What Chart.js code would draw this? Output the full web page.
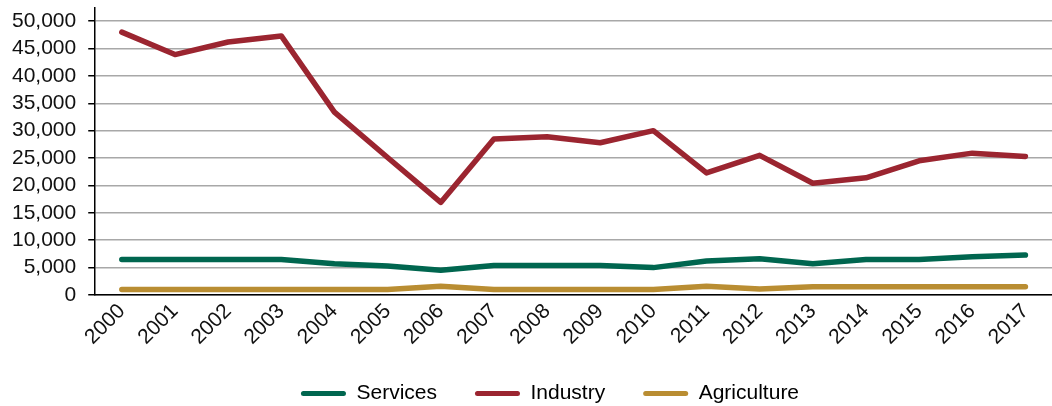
<!DOCTYPE html>
<html>
<head>
<meta charset="utf-8">
<script src="https://cdn.jsdelivr.net/npm/chart.js@4"></script>
<style>
html,body{margin:0;padding:0;background:#fff;}
#wrap{width:1052px;height:406px;position:relative;}
</style>
</head>
<body>
<div id="wrap"><canvas id="c" width="1052" height="406"></canvas></div>
<script>
const years = ["2000","2001","2002","2003","2004","2005","2006","2007","2008","2009","2010","2011","2012","2013","2014","2015","2016","2017"];
const services = [6500,6500,6500,6500,5700,5300,4500,5400,5400,5400,5000,6200,6600,5700,6500,6500,7000,7300];
const industry = [48000,43900,46200,47300,33400,25100,16900,28500,28900,27800,30000,22300,25500,20400,21400,24500,25900,25300];
const agriculture = [1000,1000,1000,1000,1000,1000,1600,1000,1000,1000,1000,1600,1100,1500,1500,1500,1500,1500];
const yTicks = [0,5000,10000,15000,20000,25000,30000,35000,40000,45000,50000];

const FONT = "'Liberation Sans', Arial, Helvetica, sans-serif";
const cols = {s:'#00664f', i:'#9b2530', a:'#b98d32'};

const legendShift = {
  id:'legendShift',
  afterLayout(chart){
    if (chart.legend){ chart.legend.left += 23; chart.legend.right += 23; }
  }
};

new Chart(document.getElementById('c'), {
  type: 'line',
  data: {
    labels: years,
    datasets: [
      {label:'Services', data:services, borderColor:cols.s, backgroundColor:cols.s},
      {label:'Industry', data:industry, borderColor:cols.i, backgroundColor:cols.i},
      {label:'Agriculture', data:agriculture, borderColor:cols.a, backgroundColor:cols.a}
    ]
  },
  plugins:[legendShift],
  options: {
    responsive:false,
    animation:false,
    devicePixelRatio:1,
    layout:{padding:{left:0,right:-2,top:8,bottom:-8}},
    elements:{
      line:{borderWidth:5.5, tension:0, borderCapStyle:'round', borderJoinStyle:'round'},
      point:{radius:0, hoverRadius:0}
    },
    plugins:{
      legend:{
        position:'bottom',
        labels:{
          font:{family:FONT, size:21},
          color:'#111',
          boxWidth:45,
          boxHeight:5,
          padding:38,
          generateLabels(chart){
            return chart.data.datasets.map((d,i)=>({
              text:d.label, fillStyle:d.borderColor, strokeStyle:d.borderColor,
              lineWidth:0, borderRadius:2.5, datasetIndex:i, hidden:false
            }));
          }
        }
      },
      tooltip:{enabled:false}
    },
    scales:{
      x:{
        offset:true,
        afterFit(scale){ scale.height = 50; },
        grid:{display:true, drawOnChartArea:false, drawTicks:false, color:'#000'},
        border:{display:true, color:'#000', width:1.5},
        ticks:{font:{family:FONT, size:21}, color:'#111', maxRotation:45, minRotation:45, padding:4}
      },
      y:{
        min:0, max:52400,
        afterBuildTicks(axis){ axis.ticks = yTicks.map(v=>({value:v})); },
        afterFit(scale){ scale.paddingTop = 0; },
        grid:{color:'#a8a8a8', lineWidth:1.5, tickLength:7, tickColor:'#000'},
        border:{display:true, color:'#000', width:1.5},
        ticks:{font:{family:FONT, size:21}, color:'#111', padding:12, autoSkip:false,
          callback:(v)=>v.toLocaleString('en-US')}
      }
    }
  }
});
</script>
</body>
</html>
